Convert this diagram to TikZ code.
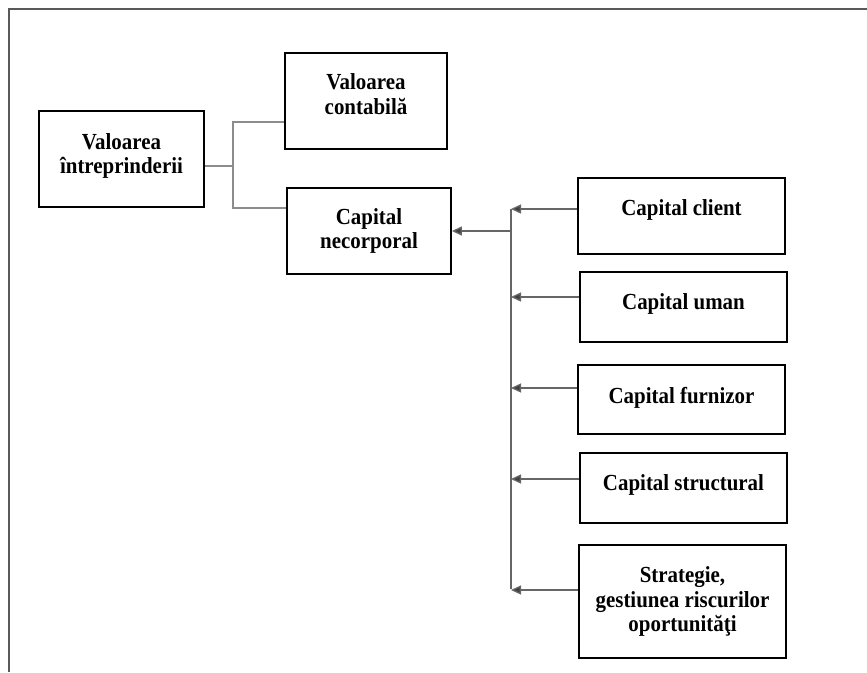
\documentclass[tikz,border=0pt]{standalone}
\usepackage{fontspec}
\setmainfont{Liberation Serif}
\newfontfamily\lblfont[FakeStretch=0.91]{Liberation Serif}
\usetikzlibrary{arrows.meta}
\begin{document}
\begin{tikzpicture}[x=1pt,y=-1pt,
  box/.style={draw=black,line width=1.8pt,inner sep=0pt},
  lbl/.style={font=\lblfont\fontsize{23}{24.5}\selectfont\bfseries,align=center,inner sep=0pt},
  conn/.style={draw=black!60,line width=1.3pt},
  lconn/.style={draw=black!45,line width=1.2pt},
  arr/.style={conn,-{Triangle[length=10pt,width=9pt,fill=black!75]}},
  frame/.style={draw=black!65,line width=2pt}]
\useasboundingbox (0,0) rectangle (867,672);
\draw[frame] (9,672) -- (9,8.5) -- (867,8.5);

% boxes
\node[box,minimum width=165pt,minimum height=96pt] (vi) at (121.5,159) {};
\node[box,minimum width=162pt,minimum height=96pt] (vc) at (366,101) {};
\node[box,minimum width=164pt,minimum height=86pt] (cn) at (369,231) {};
\node[box,minimum width=207pt,minimum height=76pt] (cc) at (681.5,216) {};
\node[box,minimum width=207pt,minimum height=70pt] (cu) at (683.5,307) {};
\node[box,minimum width=207pt,minimum height=69pt] (cf) at (681.5,399.5) {};
\node[box,minimum width=207pt,minimum height=70pt] (cs) at (683.5,488) {};
\node[box,minimum width=207pt,minimum height=113pt] (st) at (682.5,601.5) {};

% labels
\node[lbl] (vil) at ([yshift=3pt]vi) {Valoarea\\întreprinderii};
\node[lbl] (vcl) at ([yshift=7pt]vc) {Valoarea\\contabilă};
\node[lbl] (cnl) at (cn) {Capital\\necorporal};
\node[lbl] (ccl) at ([yshift=6pt]cc) {Capital client};
\node[lbl] (cul) at ([yshift=3pt]cu) {Capital uman};
\node[lbl] (cfl) at ([yshift=1.5pt]cf) {Capital furnizor};
\node[lbl] (csl) at ([yshift=3pt]cs) {Capital structural};
\node[lbl] (stl) at (st) {Strategie,\\gestiunea riscurilor\\oportunităţi};

% left connectors
\coordinate (ja) at (233,122);
\coordinate (jb) at (233,208);
\draw[lconn] ([yshift=-7pt]vi.east) coordinate (vie) -- (vie -| ja);
\draw[lconn] (vc.west |- ja) -- (ja) -- (jb) -- (cn.west |- jb);

% right bus
\coordinate (bt) at (511,209);
\coordinate (bb) at (511,589);
\coordinate (bn) at (511,231);
\draw[conn] (bt) -- (bb);
\draw[arr] (bn) -- (cn.east |- bn);
\draw[arr] ([yshift=7pt]cc.west) coordinate (ccw) -- (ccw -| bt);
\draw[arr] ([yshift=10pt]cu.west) coordinate (cuw) -- (cuw -| bt);
\draw[arr] ([yshift=11.5pt]cf.west) coordinate (cfw) -- (cfw -| bt);
\draw[arr] ([yshift=9pt]cs.west) coordinate (csw) -- (csw -| bt);
\draw[arr] ([yshift=11.5pt]st.west) coordinate (stw) -- (stw -| bt);
\end{tikzpicture}
\end{document}
